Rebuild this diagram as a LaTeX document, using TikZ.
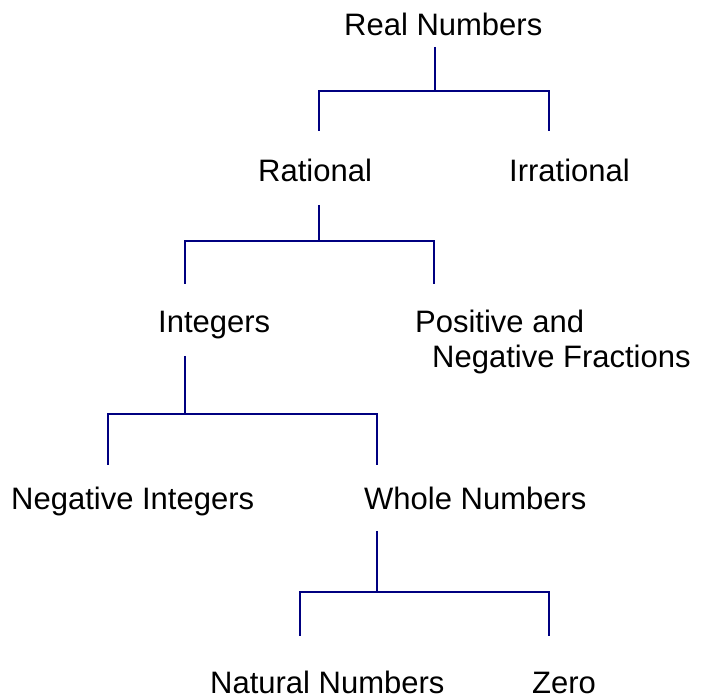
\documentclass[tikz,border=0pt]{standalone}
\usepackage{fontspec}
\setmainfont{Liberation Sans}
\begin{document}
\begin{tikzpicture}[x=1pt,y=-1pt,
  lbl/.style={anchor=base west,inner sep=0pt,font=\fontsize{31}{35}\selectfont},
  conn/.style={draw={rgb,255:red,0;green,0;blue,128},line width=1.6pt}]
\useasboundingbox (0,0) rectangle (705,700);
% texts
\node[lbl] (real) at (344,36) {Real Numbers};
\node[lbl] (rat) at (258,182) {Rational};
\node[lbl] (irr) at (509,182) {Irrational};
\node[lbl] (int) at (158,333) {Integers};
\node[lbl] (frac) at (415,333) {\begin{tabular}[t]{@{}l@{}}Positive and\\\hspace*{17pt}Negative Fractions\end{tabular}};
\node[lbl] (negint) at (11,510) {Negative Integers};
\node[lbl] (whole) at (364,510) {Whole Numbers};
\node[lbl] (nat) at (210,693) {Natural Numbers};
\node[lbl] (zero) at (532,693) {Zero};
% junction coordinates
\coordinate (r0) at (435,47);  \coordinate (r1) at (435,91);
\coordinate (rl) at (319,91);  \coordinate (rr) at (549,91);
\coordinate (rlb) at (319,131); \coordinate (rrb) at (549,131);
\coordinate (q0) at (319,205); \coordinate (q1) at (319,241);
\coordinate (ql) at (185,241); \coordinate (qr) at (434,241);
\coordinate (qlb) at (185,284); \coordinate (qrb) at (434,284);
\coordinate (i0) at (185,356); \coordinate (i1) at (185,414);
\coordinate (il) at (108,414); \coordinate (ir) at (377,414);
\coordinate (ilb) at (108,465); \coordinate (irb) at (377,465);
\coordinate (w0) at (377,531); \coordinate (w1) at (377,592);
\coordinate (wl) at (300,592); \coordinate (wr) at (549,592);
\coordinate (wlb) at (300,636); \coordinate (wrb) at (549,636);
% connectors
\draw[conn] (r0) -- (r1);
\draw[conn] (rlb) -- (rl) -- (rr) -- (rrb);
\draw[conn] (q0) -- (q1);
\draw[conn] (qlb) -- (ql) -- (qr) -- (qrb);
\draw[conn] (i0) -- (i1);
\draw[conn] (ilb) -- (il) -- (ir) -- (irb);
\draw[conn] (w0) -- (w1);
\draw[conn] (wlb) -- (wl) -- (wr) -- (wrb);
\end{tikzpicture}
\end{document}
